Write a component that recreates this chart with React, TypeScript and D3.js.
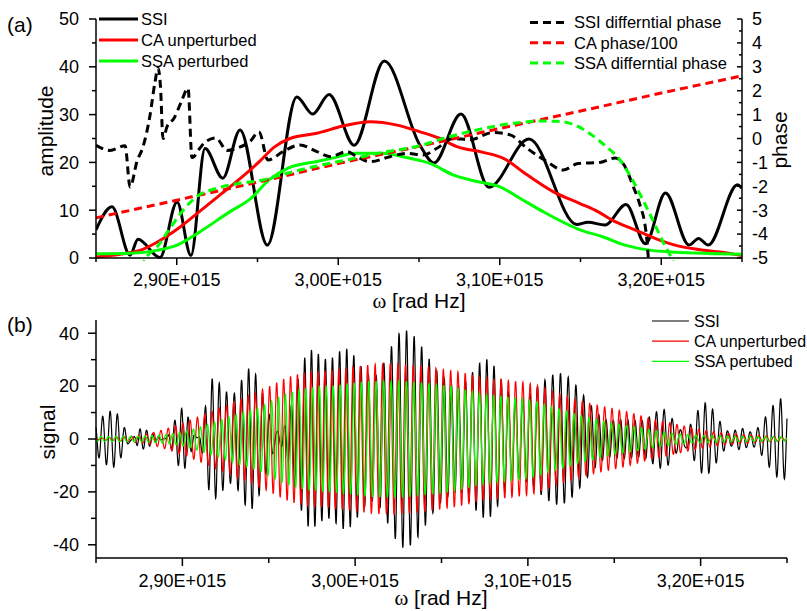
import React from "react";
import * as d3 from "d3";

// ω values are in units of 1e15 rad Hz
const xMajorTicks = [2.9, 3.0, 3.1, 3.2];
const xMinorTicks = [2.85, 2.95, 3.05, 3.15, 3.25];
const ampMajorTicks = [0, 10, 20, 30, 40, 50];
const ampMinorTicks = [5, 15, 25, 35, 45];
const phaseMajorTicks = [-5, -4, -3, -2, -1, 0, 1, 2, 3, 4, 5];
const phaseMinorTicks = [-4.5, -3.5, -2.5, -1.5, -0.5, 0.5, 1.5, 2.5, 3.5, 4.5];
const signalMajorTicks = [-40, -20, 0, 20, 40];
const signalMinorTicks = [-30, -10, 10, 30];

const amplitudeLegend = ["SSI", "CA unperturbed", "SSA perturbed"];
const phaseLegend = ["SSI differntial phase", "CA phase/100", "SSA differntial phase"];
const signalLegend = ["SSI", "CA unperturbed", "SSA pertubed"];
const seriesColors = ["#000000", "#ff0000", "#00ff00"];

// (a) amplitudes  [ω, amplitude]
const ssiAmplitude: [number, number][] = [
  [2.85, 5.9], [2.8599, 10.7], [2.8711, 0.6], [2.876, 3.9], [2.8896, 0.1],
  [2.9002, 11.7], [2.9088, 0.5], [2.9175, 22.9], [2.9285, 16.7], [2.9392, 26.8],
  [2.9561, 2.7], [2.9743, 33.7], [2.9842, 30.1], [2.9943, 34.2], [3.0099, 23.6],
  [3.0285, 41.2], [3.0506, 23.6], [3.0593, 19.9], [3.076, 30.1], [3.0933, 14.8],
  [3.1181, 24.9], [3.1477, 7.0], [3.1546, 7.5], [3.1652, 6.9], [3.1782, 11.2],
  [3.1902, 3.0], [3.2026, 13.6], [3.2172, 2.7], [3.2231, 4.1], [3.2291, 2.7],
  [3.2472, 15.3], [3.25, 14.6],
];
const caAmplitude: [number, number][] = [
  [2.85, 0.2], [2.8649, 0.8], [2.8772, 1.6], [2.8878, 3.3], [2.9002, 6.0],
  [2.9144, 9.8], [2.9268, 13.2], [2.9392, 16.6], [2.9503, 19.9], [2.9608, 23.3],
  [2.9701, 25.0], [2.9868, 26.1], [3.0029, 27.6], [3.0197, 28.5], [3.0364, 27.8],
  [3.0506, 26.4], [3.063, 25.0], [3.0735, 23.3], [3.0896, 22.1], [3.102, 20.9],
  [3.1169, 17.4], [3.133, 13.9], [3.1497, 11.4], [3.159, 10.0], [3.1714, 7.6],
  [3.1837, 5.9], [3.1961, 4.1], [3.2085, 2.7], [3.2228, 1.8], [3.2376, 1.2],
  [3.25, 0.5],
];
const ssaAmplitude: [number, number][] = [
  [2.85, 0.9], [2.8711, 1.0], [2.8878, 1.6], [2.9002, 2.7], [2.9144, 5.5],
  [2.933, 9.7], [2.9454, 12.3], [2.9577, 16.5], [2.9683, 18.7], [2.9868, 20.2],
  [2.998, 21.0], [3.0104, 21.9], [3.0277, 21.9], [3.0401, 21.2], [3.0506, 20.4],
  [3.0568, 19.8], [3.0711, 17.4], [3.0859, 16.0], [3.1002, 14.9], [3.1125, 12.5],
  [3.1268, 9.7], [3.1497, 5.9], [3.1633, 4.5], [3.1776, 2.7], [3.1918, 1.7],
  [3.2085, 1.2], [3.25, 0.8],
];

// (a) phases  [ω, phase]
const ssiPhase: [number, number][] = [
  [2.85, -0.28], [2.8587, -0.5], [2.868, -0.3], [2.8711, -2.03], [2.8754, -0.95],
  [2.8791, -0.35], [2.8834, 0.95], [2.8865, 2.35], [2.8884, 2.95], [2.8899, 2.2],
  [2.8915, 0.0], [2.894, 0.5], [2.8983, 0.85], [2.9026, 1.5], [2.907, 2.1],
  [2.9094, -0.8], [2.9144, -0.4], [2.9175, -0.15], [2.9243, 0.02], [2.9311, -0.5],
  [2.9373, -0.4], [2.9454, -0.12], [2.9509, 0.28], [2.9565, -0.9], [2.9658, -0.55],
  [2.9763, -0.27], [2.9868, -0.55], [2.9949, -0.76], [3.0054, -0.55], [3.0116, -0.76],
  [3.0197, -0.97], [3.032, -0.76], [3.0426, -0.62], [3.0525, -0.69], [3.0611, -0.41],
  [3.0711, 0.0], [3.0816, -0.05], [3.0958, 0.25], [3.1064, 0.15], [3.1169, -0.41],
  [3.1293, -0.97], [3.1392, -1.32], [3.1485, -1.05], [3.1621, -1.0], [3.1714, -0.82],
  [3.1769, -1.1], [3.1825, -1.98], [3.1868, -2.78], [3.1899, -3.6], [3.1912, -4.3],
  [3.1924, -5.4],
];
const caPhase100: [number, number][] = [
  [2.85, -3.32], [2.9, -2.58], [2.95, -1.83], [3.0, -1.05], [3.05, -0.33],
  [3.1, 0.42], [3.15, 1.15], [3.2, 1.9], [3.25, 2.62],
];
const ssaPhase: [number, number][] = [
  [2.8779, -5.4], [2.8814, -4.95], [2.8876, -4.55], [2.8958, -3.76], [2.9041, -2.99],
  [2.9124, -2.43], [2.9247, -2.08], [2.9392, -1.87], [2.9515, -1.76], [2.9658, -1.5],
  [2.9868, -1.15], [3.0073, -0.87], [3.0277, -0.58], [3.0506, -0.3], [3.0649, 0.0],
  [3.0859, 0.36], [3.1064, 0.62], [3.1268, 0.73], [3.1355, 0.72], [3.1466, 0.56],
  [3.1559, 0.2], [3.1652, -0.3], [3.1745, -0.9], [3.1819, -1.7], [3.1881, -2.5],
  [3.1943, -3.35], [3.2005, -4.25], [3.2054, -4.87], [3.2091, -5.4],
];

// monotone cubic evaluation (same rule as d3.curveMonotoneX) of the read curves
function monotone(pts: [number, number][]) {
  const n = pts.length;
  const xs = pts.map((p) => p[0]);
  const ys = pts.map((p) => p[1]);
  const sec: number[] = [];
  for (let i = 0; i < n - 1; i++) sec.push((ys[i + 1] - ys[i]) / (xs[i + 1] - xs[i]));
  const m = new Array(n).fill(0);
  for (let i = 1; i < n - 1; i++) {
    const h0 = xs[i] - xs[i - 1], h1 = xs[i + 1] - xs[i];
    const s0 = sec[i - 1], s1 = sec[i];
    const p = (s0 * h1 + s1 * h0) / (h0 + h1);
    m[i] = (Math.sign(s0) + Math.sign(s1)) * Math.min(Math.abs(s0), Math.abs(s1), 0.5 * Math.abs(p)) || 0;
  }
  m[0] = (3 * sec[0] - m[1]) / 2;
  m[n - 1] = (3 * sec[n - 2] - m[n - 2]) / 2;
  return (x: number) => {
    if (x <= xs[0]) return ys[0];
    if (x >= xs[n - 1]) return ys[n - 1];
    const i = Math.min(n - 2, d3.bisectRight(xs, x) - 1);
    const h = xs[i + 1] - xs[i];
    const t = (x - xs[i]) / h;
    const t2 = t * t, t3 = t2 * t;
    return (2 * t3 - 3 * t2 + 1) * ys[i] + (t3 - 2 * t2 + t) * h * m[i] +
      (-2 * t3 + 3 * t2) * ys[i + 1] + (t3 - t2) * h * m[i + 1];
  };
}

const W = 807, H = 611;
const FONT = "'Liberation Sans', Arial, Helvetica, sans-serif";
const SERIF = "'Liberation Serif', 'Times New Roman', serif";

export default function App() {
  const xTop = d3.scaleLinear().domain([2.85, 3.25]).range([96, 742]);
  const yAmp = d3.scaleLinear().domain([0, 50]).range([258, 19]);
  const yPh = d3.scaleLinear().domain([-5, 5]).range([258, 19]);
  const xBot = d3.scaleLinear().domain([2.85, 3.25]).range([96, 787]);
  const ySig = d3.scaleLinear().domain([-45, 45]).range([558, 320]);

  const ampLine = d3.line<[number, number]>().x((d) => xTop(d[0])).y((d) => yAmp(d[1])).curve(d3.curveMonotoneX);
  const phLine = d3.line<[number, number]>().x((d) => xTop(d[0])).y((d) => yPh(d[1])).curve(d3.curveMonotoneX);

  // (b) signal: amplitude of (a) times cosine of the phase of (a)
  const fAmp = [monotone(ssiAmplitude), monotone(caAmplitude), monotone(ssaAmplitude)];
  const fCa = monotone(caPhase100);
  const fDiff = [monotone(ssiPhase), (_: number) => 0, monotone(ssaPhase)];
  const grid = d3.range(0, 3201).map((i) => 2.85 + (i * 0.4) / 3200);
  const sigLine = d3.line<[number, number]>().x((d) => xBot(d[0])).y((d) => ySig(d[1]));
  const signals = [0, 1, 2].map((k) =>
    grid.map((w) => [w, fAmp[k](w) * Math.cos(100 * fCa(w) + fDiff[k](w))] as [number, number])
  );

  const fmt = (d: number) => d3.format(".2f")(d).replace(".", ",") + "E+015";
  const axisStroke = { stroke: "#000", strokeWidth: 1.5, fill: "none" } as const;

  const ampSeries = [ssiAmplitude, caAmplitude, ssaAmplitude];
  const phSeries = [ssiPhase, caPhase100, ssaPhase];

  return (
    <div style={{ position: "absolute", left: 0, top: 0 }}>
      <svg width={W} height={H} style={{ display: "block", background: "#fff" }} fontFamily={FONT}>
        <defs>
          <clipPath id="clipTop">
            <rect x={96} y={0} width={646} height={261} />
          </clipPath>
        </defs>
        <rect x={0} y={0} width={W} height={H} fill="#fff" />

        {/* ===== panel (a) ===== */}
        <text x={7} y={25} dy="0.35em" fontSize={21}>(a)</text>
        <g clipPath="url(#clipTop)" fill="none" strokeWidth={3}>
          {ampSeries.map((s, k) => (
            <path key={"a" + k} d={ampLine(s) || ""} stroke={seriesColors[k]} />
          ))}
          {phSeries.map((s, k) => (
            <path key={"p" + k} d={phLine(s) || ""} stroke={seriesColors[k]} strokeDasharray="8,5" />
          ))}
        </g>
        {/* axes */}
        <line x1={96} x2={96} y1={19} y2={258} {...axisStroke} />
        <line x1={96} x2={742} y1={258} y2={258} {...axisStroke} />
        <line x1={742} x2={742} y1={19} y2={258} {...axisStroke} />
        {ampMajorTicks.map((t) => (
          <g key={"am" + t}>
            <line x1={89} x2={96} y1={yAmp(t)} y2={yAmp(t)} {...axisStroke} />
            <text x={79} y={yAmp(t)} dy="0.35em" textAnchor="end" fontSize={18}>{t}</text>
          </g>
        ))}
        {ampMinorTicks.map((t) => (
          <line key={"an" + t} x1={92} x2={96} y1={yAmp(t)} y2={yAmp(t)} {...axisStroke} />
        ))}
        {phaseMajorTicks.map((t) => (
          <g key={"pm" + t}>
            <line x1={737} x2={742} y1={yPh(t)} y2={yPh(t)} {...axisStroke} />
            <text x={752} y={yPh(t)} dy="0.35em" textAnchor="start" fontSize={18}>{String(t)}</text>
          </g>
        ))}
        {phaseMinorTicks.map((t) => (
          <line key={"pn" + t} x1={739} x2={742} y1={yPh(t)} y2={yPh(t)} {...axisStroke} />
        ))}
        {xMajorTicks.map((t) => (
          <g key={"xm" + t}>
            <line x1={xTop(t)} x2={xTop(t)} y1={258} y2={265} {...axisStroke} />
            <text x={xTop(t)} y={280} dy="0.35em" textAnchor="middle" fontSize={18}>{fmt(t)}</text>
          </g>
        ))}
        {xMinorTicks.map((t) => (
          <line key={"xn" + t} x1={xTop(t)} x2={xTop(t)} y1={258} y2={262} {...axisStroke} />
        ))}
        <text transform="translate(53,131) rotate(-90)" textAnchor="middle" fontSize={21}>amplitude</text>
        <text transform="translate(787,140) rotate(-90)" textAnchor="middle" fontSize={21}>phase</text>
        <text x={419} y={308} textAnchor="middle" fontSize={21}>
          <tspan fontFamily={SERIF}>ω</tspan> [rad Hz]
        </text>
        {/* legends */}
        {amplitudeLegend.map((name, k) => (
          <g key={"la" + k}>
            <line x1={99} x2={138} y1={19 + k * 21} y2={19 + k * 21} stroke={seriesColors[k]} strokeWidth={3} />
            <text x={141} y={19 + k * 21} dy="0.35em" fontSize={16.5}>{name}</text>
          </g>
        ))}
        {phaseLegend.map((name, k) => (
          <g key={"lp" + k}>
            <line x1={530} x2={566} y1={22.5 + k * 20.3} y2={22.5 + k * 20.3} stroke={seriesColors[k]} strokeWidth={3} strokeDasharray="8,5" />
            <text x={574} y={22.5 + k * 20.3} dy="0.35em" fontSize={16.5}>{name}</text>
          </g>
        ))}

        {/* ===== panel (b) ===== */}
        <text x={7} y={325} dy="0.35em" fontSize={21}>(b)</text>
        <g fill="none" strokeWidth={1.2}>
          {signals.map((s, k) => (
            <path key={"s" + k} d={sigLine(s) || ""} stroke={seriesColors[k]} />
          ))}
        </g>
        <line x1={96} x2={96} y1={320} y2={558} {...axisStroke} />
        <line x1={96} x2={787} y1={558} y2={558} {...axisStroke} />
        {signalMajorTicks.map((t) => (
          <g key={"sm" + t}>
            <line x1={88} x2={96} y1={ySig(t)} y2={ySig(t)} {...axisStroke} />
            <text x={79} y={ySig(t)} dy="0.35em" textAnchor="end" fontSize={18}>{String(t)}</text>
          </g>
        ))}
        {signalMinorTicks.map((t) => (
          <line key={"sn" + t} x1={91} x2={96} y1={ySig(t)} y2={ySig(t)} {...axisStroke} />
        ))}
        {xMajorTicks.map((t) => (
          <g key={"bm" + t}>
            <line x1={xBot(t)} x2={xBot(t)} y1={558} y2={566} {...axisStroke} />
            <text x={xBot(t)} y={581} dy="0.35em" textAnchor="middle" fontSize={18}>{fmt(t)}</text>
          </g>
        ))}
        {xMinorTicks.map((t) => (
          <line key={"bn" + t} x1={xBot(t)} x2={xBot(t)} y1={558} y2={563} {...axisStroke} />
        ))}
        <text transform="translate(55,432) rotate(-90)" textAnchor="middle" fontSize={21}>signal</text>
        <text x={441} y={605} textAnchor="middle" fontSize={21}>
          <tspan fontFamily={SERIF}>ω</tspan> [rad Hz]
        </text>
        {signalLegend.map((name, k) => (
          <g key={"ls" + k}>
            <line x1={652} x2={689} y1={321 + k * 20.2} y2={321 + k * 20.2} stroke={seriesColors[k]} strokeWidth={1.2} />
            <text x={694} y={321 + k * 20.2} dy="0.35em" fontSize={16}>{name}</text>
          </g>
        ))}
      </svg>
    </div>
  );
}
